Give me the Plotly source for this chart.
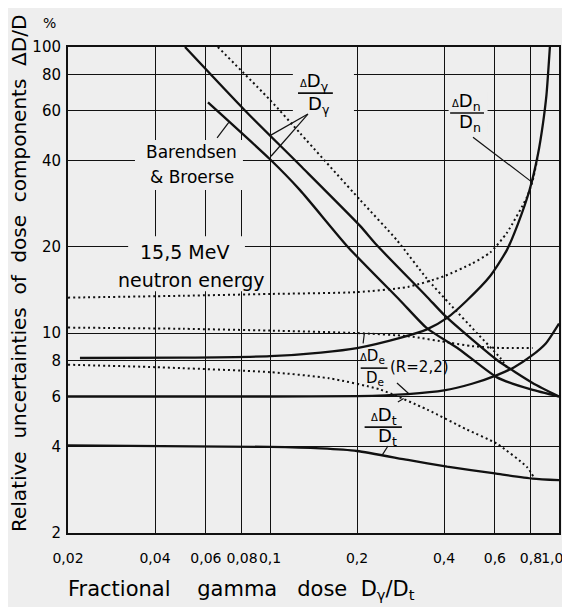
import numpy as np
import plotly.graph_objects as go

# %% Data (x = D_gamma/D_t, y = relative uncertainty in %)

x_ticks = [0.02, 0.04, 0.06, 0.08, 0.1, 0.2, 0.4, 0.6, 0.8, 1.0]
x_ticktext = ["0,02", "0,04", "0,06", "0,08", "0,1", "0,2", "0,4", "0,6", "0,8",
              "1,0\u00a0\u00a0\u00a0"]
y_ticks = [2, 4, 6, 8, 10, 20, 40, 60, 80, 100]

# dD_gamma/D_gamma (upper solid line)
gamma_x = [0.0508, 0.0819, 0.127, 0.205, 0.234, 0.349, 0.403, 0.50, 0.61, 0.81, 1.0]
gamma_y = [100, 60, 38.6, 23.7, 20.3, 13.4, 11.5, 9.5, 8.05, 6.69, 6.0]

# Barendsen & Broerse (lower solid line)
bb_x = [0.061, 0.1, 0.127, 0.186, 0.282, 0.349, 0.45, 0.61, 0.8, 1.0]
bb_y = [64, 40.5, 31.6, 20, 13.0, 10.4, 8.8, 7.0, 6.35, 6.0]

# dD_gamma/D_gamma, dotted
gamma_dot_x = [0.066, 0.1, 0.127, 0.205, 0.275, 0.349, 0.42, 0.52, 0.625, 0.66]
gamma_dot_y = [100, 65.3, 50, 29.2, 21.1, 15.5, 12.6, 10.0, 8.2, 7.6]

# dD_n/D_n, solid
n_x = [0.022, 0.05, 0.1, 0.15, 0.2, 0.28, 0.349, 0.41, 0.48, 0.577, 0.66, 0.72, 0.79, 0.845, 0.88, 0.905, 0.93]
n_y = [8.18, 8.2, 8.3, 8.55, 8.86, 9.6, 10.3, 11.3, 13.0, 15.8, 19.5, 24, 31.5, 42, 54, 68, 100]

# dD_n/D_n, dotted
n_dot_x = [0.02, 0.05, 0.1, 0.2, 0.3, 0.4, 0.5, 0.577, 0.66, 0.775, 0.81, 0.845]
n_dot_y = [13.3, 13.5, 13.7, 13.9, 14.5, 15.8, 17.5, 19.1, 22.4, 29.9, 34, 41.5]

# dD_e/D_e (R=2.2), solid
e_x = [0.02, 0.1, 0.2, 0.3, 0.4, 0.5, 0.61, 0.7, 0.8, 0.9, 1.0]
e_y = [6.0, 6.0, 6.02, 6.12, 6.3, 6.65, 7.13, 7.6, 8.3, 9.2, 10.8]

# dD_e/D_e, dotted
e_dot_x = [0.02, 0.05, 0.1, 0.2, 0.3, 0.42, 0.5, 0.62, 0.81]
e_dot_y = [10.45, 10.35, 10.2, 10.0, 9.75, 9.25, 9.0, 8.87, 8.86]

# dD_t/D_t, solid
t_x = [0.02, 0.1, 0.15, 0.2, 0.3, 0.41, 0.6, 0.81, 1.0]
t_y = [4.05, 4.0, 3.95, 3.87, 3.6, 3.41, 3.23, 3.1, 3.06]

# dD_t/D_t, dotted
t_dot_x = [0.02, 0.04, 0.1, 0.16, 0.24, 0.35, 0.48, 0.61, 0.775, 0.82]
t_dot_y = [7.75, 7.6, 7.3, 6.95, 6.35, 5.4, 4.6, 4.1, 3.4, 3.12]

BG = "#eeeeee"
INK = "#111111"
FONT = "DejaVu Sans"
lg = np.log10

fig = go.Figure()


def add_curve(x, y, dotted=False):
    if dotted:
        line = dict(color=INK, width=2, dash="2px,3px", shape="spline", smoothing=0.6)
    else:
        line = dict(color=INK, width=2.3, shape="spline", smoothing=0.6)
    fig.add_trace(go.Scatter(x=x, y=y, mode="lines", line=line,
                             hoverinfo="skip", showlegend=False))


add_curve(gamma_x, gamma_y)
add_curve(bb_x, bb_y)
add_curve(gamma_dot_x, gamma_dot_y, dotted=True)
add_curve(n_x, n_y)
add_curve(n_dot_x, n_dot_y, dotted=True)
add_curve(e_x, e_y)
add_curve(e_dot_x, e_dot_y, dotted=True)
add_curve(t_x, t_y)
add_curve(t_dot_x, t_dot_y, dotted=True)

# %% Axes

axis_common = dict(type="log", showgrid=True, gridcolor=INK, gridwidth=1.4,
                   showline=True, linecolor=INK, linewidth=2, mirror=True,
                   ticks="", zeroline=False, automargin=False,
                   ticklabeloverflow="allow",
                   tickfont=dict(family=FONT, size=14, color="#000"))
fig.update_xaxes(range=[lg(0.02), 0], tickvals=x_ticks, ticktext=x_ticktext,
                 tickangle=0, ticklabelstandoff=11, **axis_common)
fig.update_yaxes(range=[lg(2), 2], tickvals=y_ticks,
                 ticktext=[str(v) for v in y_ticks], ticklabelstandoff=2,
                 **axis_common)
fig.update_yaxes(tickfont_size=15)

# %% Masks behind the labels (break the grid lines), kept clear of the curves

masks = [((0.0341, 31.6), (0.0806, 47.3)),
         ((0.0323, 17.3), (0.0819, 21.8)),
         ((0.0279, 14.0), (0.098, 17.3)),
         ((0.12, 55.6), (0.1952, 88.6)),
         ((0.415, 50.0), (0.566, 69.6)),
         ((0.212, 6.75), (0.395, 8.6))]
for (x0, y0), (x1, y1) in masks:
    fig.add_shape(type="rect", xref="x", yref="y", x0=x0, x1=x1, y0=y0, y1=y1,
                  fillcolor=BG, line_width=0, layer="above")

# leader lines and fraction bars
leaders = [((0.1353, 58.3), (0.1, 49)),
           ((0.1353, 58.3), (0.1008, 41.5)),
           ((0.0656, 48.1), (0.072, 54.5)),
           ((0.504, 48.4), (0.806, 33.7)),
           ((0.275, 6.69), (0.303, 6.12)),
           ((0.21, 9.2), (0.212, 9.95)),
           ((0.277, 5.74), (0.29, 5.9)),
           ((0.256, 4.03), (0.245, 3.76))]
bars = [((0.125, 0.165), 69.0), ((0.42, 0.55), 58.8),
        ((0.206, 0.255), 7.54), ((0.2125, 0.286), 4.69)]
for (x0, y0), (x1, y1) in leaders:
    fig.add_shape(type="line", xref="x", yref="y", x0=x0, y0=y0, x1=x1, y1=y1,
                  line=dict(color=INK, width=1.2), layer="above")
for (x0, x1), y in bars:
    fig.add_shape(type="line", xref="x", yref="y", x0=x0, y0=y, x1=x1, y1=y,
                  line=dict(color=INK, width=1.6), layer="above")

# %% Text


def label(text, x, y, size=17):
    fig.add_annotation(text=text, x=lg(x), y=lg(y), xref="x", yref="y",
                       showarrow=False, xanchor="center", yanchor="middle",
                       font=dict(family=FONT, size=size, color="#000"))


d = "<span style='font-size:10px'>Δ</span>"
label("Barendsen", 0.0533, 42.9)
label("& Broerse", 0.0536, 35.1)
label("15,5 MeV", 0.0504, 19.2, 19)
label("neutron energy", 0.0536, 15.3, 19)
label(d + "D<sub>γ</sub>", 0.143, 75.4, 18)
label("D<sub>γ</sub>", 0.1476, 62.7, 18)
label(d + "D<sub>n</sub>", 0.477, 64.2, 18)
label("D<sub>n</sub>", 0.492, 54.2, 18)
label(d + "D<sub>e</sub>", 0.226, 8.25, 15)
label("D<sub>e</sub>", 0.231, 6.91, 15)
label("(R=2,2)", 0.33, 7.6, 15)
label(d + "D<sub>t</sub>", 0.248, 5.13, 18)
label("D<sub>t</sub>", 0.256, 4.33, 18)

sp = "\u00a0"
fig.add_annotation(text="Fractional" + sp * 4 + "gamma" + sp * 3 + "dose" + sp * 2
                   + "D<sub>γ</sub>/D<sub>t</sub>",
                   x=-0.005, y=-0.117, xref="paper", yref="paper", showarrow=False,
                   xanchor="left", yanchor="middle",
                   font=dict(family=FONT, size=21, color="#000"))
fig.add_annotation(text=(sp * 2).join(["Relative", "uncertainties", "of", "dose",
                                       "components", "ΔD/D"]),
                   x=-0.0998, y=0.535, xref="paper", yref="paper", showarrow=False,
                   textangle=-90, xanchor="center", yanchor="middle",
                   font=dict(family=FONT, size=20, color="#000"))
fig.add_annotation(text="%", x=-0.037, y=1.05, xref="paper", yref="paper",
                   showarrow=False, xanchor="center", yanchor="middle",
                   font=dict(family=FONT, size=14, color="#000"))

# the page adds an 8 px body margin, so the figure is sized to fit the
# 570x607 window once that margin is taken off
fig.update_layout(width=562, height=599, paper_bgcolor=BG, plot_bgcolor=BG,
                  margin=dict(l=60, r=11, t=39, b=74, pad=0), showlegend=False)

fig.write_html("out.html")
